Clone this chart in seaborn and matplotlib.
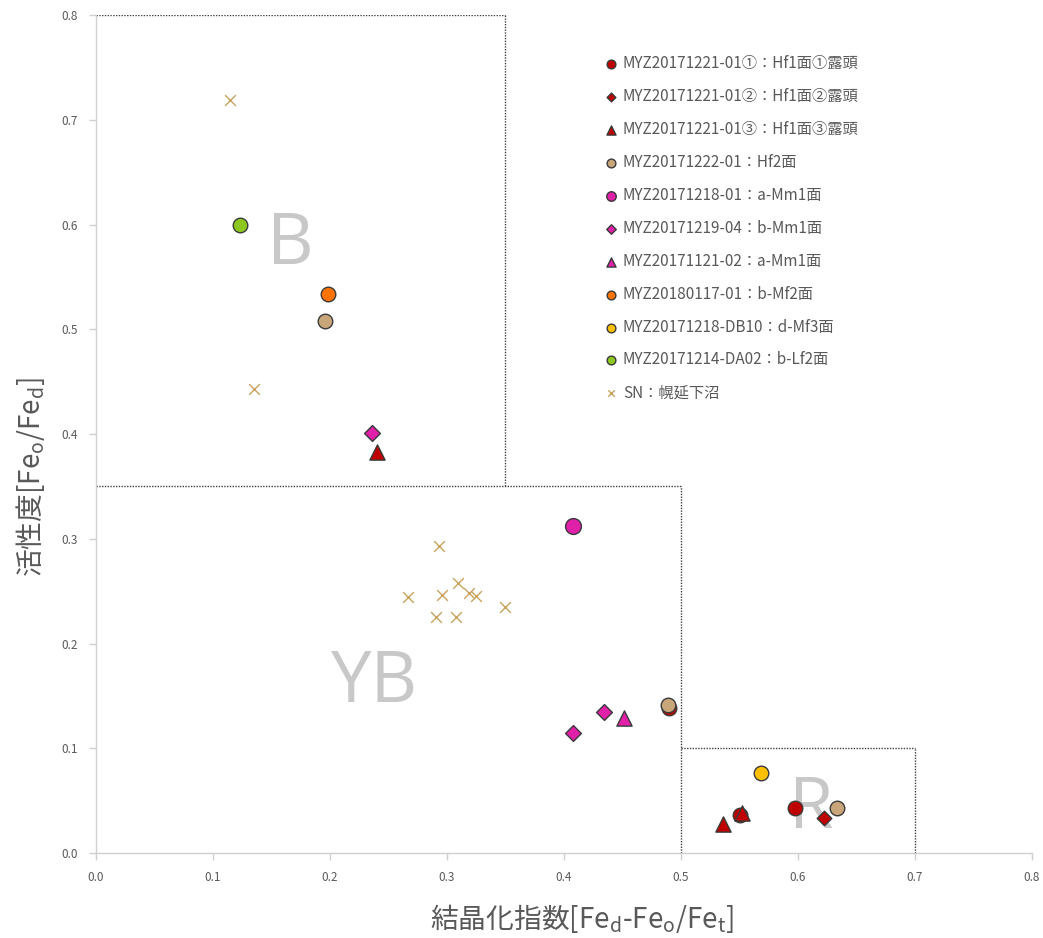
import matplotlib
matplotlib.use("Agg")
import matplotlib.pyplot as plt
import seaborn as sns
import pandas as pd

sns.set_theme(style="white")
plt.rcParams['font.family'] = ['Noto Sans CJK JP', 'DejaVu Sans']
plt.rcParams['mathtext.default'] = 'regular'

# --- data: crystallinity index (x) vs activity (y) per sample ---
hf1_1_x = [0.490, 0.550, 0.597]
hf1_1_y = [0.138, 0.036, 0.043]
hf1_2_x = [0.622]
hf1_2_y = [0.033]
hf1_3_x = [0.240, 0.536, 0.552]
hf1_3_y = [0.383, 0.028, 0.038]
hf2_x = [0.196, 0.489, 0.633]
hf2_y = [0.508, 0.141, 0.043]
amm1_x = [0.408]
amm1_y = [0.312]
bmm1_x = [0.236, 0.434, 0.408]
bmm1_y = [0.401, 0.135, 0.115]
amm1b_x = [0.451]
amm1b_y = [0.129]
bmf2_x = [0.198]
bmf2_y = [0.534]
dmf3_x = [0.568]
dmf3_y = [0.076]
blf2_x = [0.123]
blf2_y = [0.600]
sn_x = [0.1145, 0.135, 0.293, 0.267, 0.296, 0.309, 0.319, 0.325, 0.350, 0.291, 0.308]
sn_y = [0.719, 0.443, 0.293, 0.244, 0.246, 0.258, 0.248, 0.245, 0.235, 0.225, 0.225]

series = [
    ("MYZ20171221-01①：Hf1面①露頭", hf1_1_x, hf1_1_y, "o", "#C00000", 110),
    ("MYZ20171221-01②：Hf1面②露頭", hf1_2_x, hf1_2_y, "D", "#C00000", 55),
    ("MYZ20171221-01③：Hf1面③露頭", hf1_3_x, hf1_3_y, "^", "#C00000", 120),
    ("MYZ20171222-01：Hf2面", hf2_x, hf2_y, "o", "#C9A57A", 110),
    ("MYZ20171218-01：a-Mm1面", amm1_x, amm1_y, "o", "#E020A8", 130),
    ("MYZ20171219-04：b-Mm1面", bmm1_x, bmm1_y, "D", "#E020A8", 65),
    ("MYZ20171121-02：a-Mm1面", amm1b_x, amm1b_y, "^", "#E020A8", 120),
    ("MYZ20180117-01：b-Mf2面", bmf2_x, bmf2_y, "o", "#FF7400", 110),
    ("MYZ20171218-DB10：d-Mf3面", dmf3_x, dmf3_y, "o", "#FFC000", 110),
    ("MYZ20171214-DA02：b-Lf2面", blf2_x, blf2_y, "o", "#8CC820", 110),
]

fig = plt.figure(figsize=(10.43, 9.38), dpi=100)
ax = fig.add_axes([0.092, 0.0906, 0.8975, 0.8934])

for label, xs, ys, marker, color, size in series:
    df = pd.DataFrame({"x": xs, "y": ys})
    sns.scatterplot(data=df, x="x", y="y", ax=ax, marker=marker, color=color,
                    s=size, edgecolor="#3A3A3A", linewidth=1.0, label=label, zorder=3)

sn_df = pd.DataFrame({"x": sn_x, "y": sn_y})
sns.scatterplot(data=sn_df, x="x", y="y", ax=ax, marker="x", color="#C9A35E",
                s=60, linewidth=1.0, label="SN：幌延下沼", zorder=3)

# classification zones
zone_kw = dict(color="#404040", linestyle=(0, (1, 1)), linewidth=1.0, zorder=2)
ax.plot([0, 0.35], [0.8, 0.8], **zone_kw)
ax.plot([0.35, 0.35], [0.35, 0.8], **zone_kw)
ax.plot([0, 0.5], [0.35, 0.35], **zone_kw)
ax.plot([0.5, 0.5], [0, 0.35], **zone_kw)
ax.plot([0.5, 0.7], [0.1, 0.1], **zone_kw)
ax.plot([0.7, 0.7], [0, 0.1], **zone_kw)

zone_txt = dict(color="#C8C8C8", fontsize=52, ha="center", va="center",
                family=["Open Sans", "DejaVu Sans"], zorder=1)
ax.text(0.166, 0.580, "B", **zone_txt)
ax.text(0.238, 0.162, "YB", **zone_txt)
ax.text(0.611, 0.042, "R", **zone_txt)

ax.set_xlim(0, 0.8)
ax.set_ylim(0, 0.8)
ticks = [0.0, 0.1, 0.2, 0.3, 0.4, 0.5, 0.6, 0.7, 0.8]
ax.set_xticks(ticks)
ax.set_yticks(ticks)
ax.set_xticklabels([f"{t:.1f}" for t in ticks])
ax.set_yticklabels([f"{t:.1f}" for t in ticks])
ax.tick_params(axis="both", direction="out", length=5, width=1, color="#D0D0D0",
               labelsize=8.5, labelcolor="#595959", pad=8)
ax.tick_params(axis="both", bottom=True, left=True)

for side in ["top", "right"]:
    ax.spines[side].set_visible(False)
for side in ["left", "bottom"]:
    ax.spines[side].set_color("#D0D0D0")
    ax.spines[side].set_linewidth(1.0)

ax.set_xlabel("結晶化指数[Fe$_{d}$-Fe$_{o}$/Fe$_{t}$]", fontsize=20, color="#595959")
ax.set_ylabel("活性度[Fe$_{o}$/Fe$_{d}$]", fontsize=20, color="#595959")
ax.xaxis.set_label_coords(0.519, -0.058)
ax.yaxis.set_label_coords(-0.052, 0.449)

leg = ax.legend(loc="upper left", bbox_to_anchor=(0.527, 0.959), frameon=False,
                fontsize=11, labelcolor="#595959", markerscale=0.6,
                handletextpad=-0.2, labelspacing=1.04, borderaxespad=0)

fig.savefig("out.png", dpi=100)
